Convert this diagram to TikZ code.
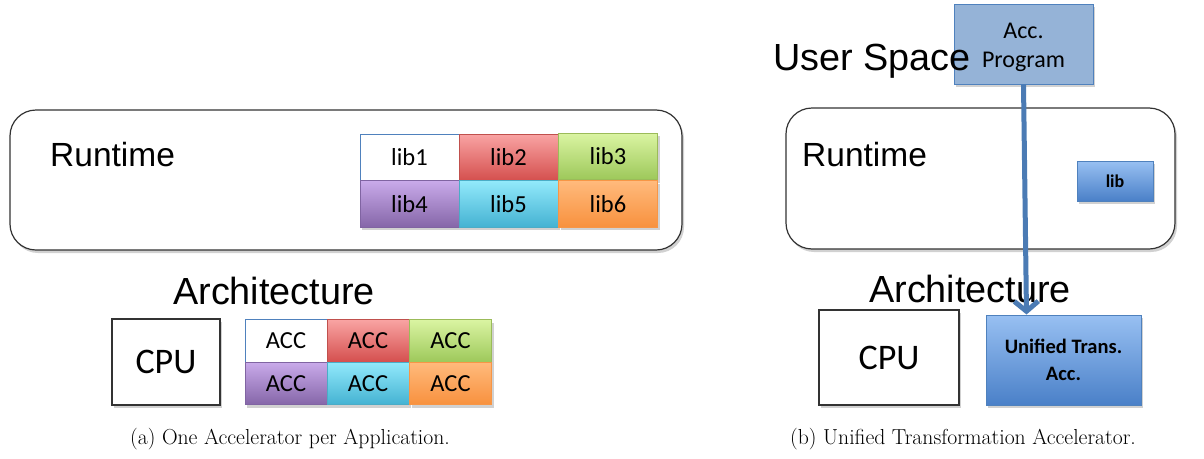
\documentclass[tikz,border=0pt]{standalone}
\usepackage{fontspec}
\newfontfamily\arialf{Liberation Sans}
\newfontfamily\calf{Carlito}
\usetikzlibrary{shadows,arrows.meta}
\definecolor{bb}{HTML}{4F81BD}
\definecolor{rT}{HTML}{F9A3A3}\definecolor{rB}{HTML}{D44F4D}\definecolor{rD}{HTML}{C0504D}
\definecolor{gT}{HTML}{DAF4A2}\definecolor{gB}{HTML}{9DC85A}\definecolor{gD}{HTML}{9BBB59}
\definecolor{pT}{HTML}{C9AAEA}\definecolor{pB}{HTML}{8566A8}\definecolor{pD}{HTML}{8064A2}
\definecolor{cT}{HTML}{92E9FB}\definecolor{cB}{HTML}{44B2D2}\definecolor{cD}{HTML}{4BACC6}
\definecolor{oT}{HTML}{FFBA7C}\definecolor{oB}{HTML}{F8913E}\definecolor{oD}{HTML}{F79646}
\definecolor{uT}{HTML}{98C0F2}\definecolor{uB}{HTML}{4A80C8}
\definecolor{progfill}{HTML}{95B3D7}
\tikzset{
  shad/.style={drop shadow={shadow xshift=2pt,shadow yshift=-3pt,opacity=0.18,fill=black}},
  cell/.style={draw,line width=1pt,inner sep=0pt,shad,font=\calf\fontsize{24.5}{28}\selectfont},
  libcell/.style={cell,minimum width=99pt,minimum height=46.5pt},
  acccell/.style={cell,minimum width=82pt,minimum height=42.5pt},
  whitec/.style={fill=white,draw=bb},
  redc/.style={top color=rT,bottom color=rB,draw=rD},
  greenc/.style={top color=gT,bottom color=gB,draw=gD},
  purplec/.style={top color=pT,bottom color=pB,draw=pD},
  cyanc/.style={top color=cT,bottom color=cB,draw=cD},
  orangec/.style={top color=oT,bottom color=oB,draw=oD},
  layerbox/.style={draw=black!80,line width=1.2pt,rounded corners=26pt,fill=white,shad},
  cpubox/.style={draw=black!80,line width=1.5pt,fill=white,shad,inner sep=0pt,font=\calf\fontsize{36}{40}\selectfont},
  bigtxt/.style={font=\arialf\fontsize{37.8}{40}\selectfont,inner sep=0pt},
  rttxt/.style={font=\arialf\fontsize{33.5}{36}\selectfont,inner sep=0pt},
  captxt/.style={font=\fontsize{21.7}{24}\selectfont,inner sep=0pt},
  bluegrad/.style={top color=uT,bottom color=uB,draw=bb,line width=1pt,shad,inner sep=0pt},
}
\begin{document}
\begin{tikzpicture}[x=1pt,y=-1pt]
\useasboundingbox[fill=white] (0,0) rectangle (1204,458);
% ---------- (a) ----------
\node[layerbox,minimum width=672pt,minimum height=140pt] (rta) at (346,180) {};
\node[rttxt,anchor=west] (rtatxt) at (50,155) {Runtime};
\node[libcell,whitec]  (l1) at (409.5,157.5) {lib1};
\node[libcell,redc]    (l2) at (508.5,157.5) {lib2};
\node[libcell,greenc]  (l3) at (608,156.5) {lib3};
\node[libcell,purplec] (l4) at (409.5,204) {lib4};
\node[libcell,cyanc]   (l5) at (508.5,204) {lib5};
\node[libcell,orangec] (l6) at (608,204) {lib6};
\node[bigtxt,anchor=west] (archa) at (173,291) {Architecture};
\node[cpubox,minimum width=108pt,minimum height=86pt] (cpua) at (166,362) {CPU};
\node[acccell,whitec]  (a1) at (286,341) {ACC};
\node[acccell,redc]    (a2) at (368,341) {ACC};
\node[acccell,greenc]  (a3) at (450.5,341) {ACC};
\node[acccell,purplec] (a4) at (286,383.5) {ACC};
\node[acccell,cyanc]   (a5) at (368,383.5) {ACC};
\node[acccell,orangec] (a6) at (450.5,383.5) {ACC};
\node[captxt] (capa) at (290,439) {(a) One Accelerator per Application.};
% ---------- (b) ----------
\node[layerbox,minimum width=389pt,minimum height=141pt] (rtb) at (980.5,178.5) {};
\node[rttxt,anchor=west] (rtbtxt) at (802,155) {Runtime};
\node[bluegrad,minimum width=76pt,minimum height=40pt,font=\calf\bfseries\fontsize{18}{20}\selectfont] (lib) at (1115,181) {lib};
\node[draw=bb,fill=progfill,line width=1pt,shad,minimum width=139pt,minimum height=80pt,inner sep=0pt] (prog) at (1023.5,44) {};
\node[bigtxt,anchor=base west] (ust) at (773,70) {User Space};
\node[font=\calf\fontsize{24}{29}\selectfont,align=center,inner sep=0pt] (progtxt) at (1023.5,47) {Acc.\\Program};
\node[bigtxt,anchor=west] (archb) at (869,289) {Architecture};
\node[cpubox,minimum width=140pt,minimum height=95pt] (cpub) at (889,357.5) {CPU};
\node[bluegrad,minimum width=155pt,minimum height=90pt,align=center,font=\calf\bfseries\fontsize{20.5}{27}\selectfont] (uta) at (1063.5,360) {Unified Trans.\\Acc.};
\draw[bb!95!black,line width=5pt,-{Straight Barb[length=10pt,width=24pt]}] (prog.south) -- ([xshift=3pt]prog.south |- uta.north);
\node[captxt] (capb) at (963,439) {(b) Unified Transformation Accelerator.};
\end{tikzpicture}
\end{document}
